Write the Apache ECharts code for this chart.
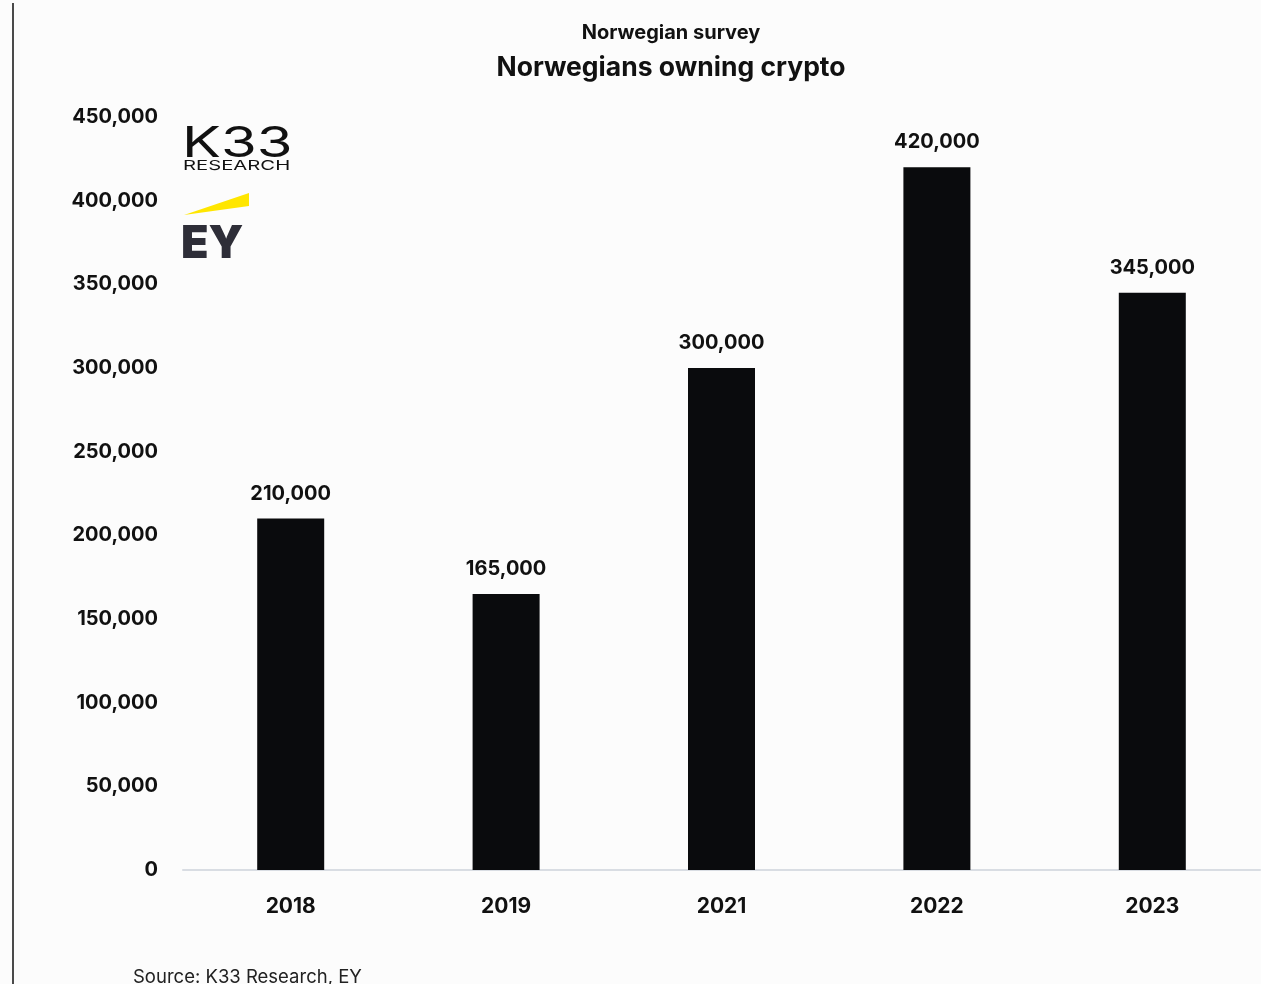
<!DOCTYPE html>
<html>
<head>
<meta charset="utf-8">
<script src="https://cdn.jsdelivr.net/npm/echarts@6/dist/echarts.min.js"></script>
<style>
  html, body { margin: 0; padding: 0; background: #fcfcfc; }
  #chart { width: 1261px; height: 984px; }
</style>
</head>
<body>
<div id="chart"></div>
<script>
// Survey years and estimated number of Norwegians owning crypto
const years = ['2018', '2019', '2021', '2022', '2023'];
const owners = [210000, 165000, 300000, 420000, 345000];
const yTicks = { min: 0, max: 450000, interval: 50000 };

const FONT = 'Inter, "Noto Sans", sans-serif';
const fmt = v => v.toLocaleString('en-US');

const chart = echarts.init(document.getElementById('chart'), null, { renderer: 'canvas' });

chart.setOption({
  backgroundColor: '#fcfcfc',
  animation: false,
  textStyle: { fontFamily: FONT },
  title: [
    {
      text: 'Norwegian survey',
      left: 666, top: 18, textAlign: 'center',
      textStyle: { fontFamily: FONT, fontSize: 20, fontWeight: 700, color: '#111' }
    },
    {
      text: 'Norwegians owning crypto',
      left: 666, top: 50, textAlign: 'center',
      textStyle: { fontFamily: FONT, fontSize: 26.5, fontWeight: 700, color: '#111' }
    },
    {
      text: 'Source: K33 Research, EY',
      left: 128, top: 963,
      textStyle: { fontFamily: FONT, fontSize: 18.5, fontWeight: 400, color: '#222' }
    }
  ],
  grid: { left: 183, right: 1, top: 117, bottom: 114, containLabel: false },
  xAxis: {
    type: 'category',
    data: years,
    axisLine: { lineStyle: { color: '#d9dde3', width: 2 } },
    axisTick: { show: false },
    axisLabel: { margin: 26, fontFamily: FONT, fontSize: 21, fontWeight: 700, color: '#111' }
  },
  yAxis: {
    type: 'value',
    min: yTicks.min, max: yTicks.max, interval: yTicks.interval,
    splitLine: { show: false },
    axisLine: { show: false },
    axisTick: { show: false },
    axisLabel: {
      margin: 25, fontFamily: FONT, fontSize: 20, fontWeight: 700, color: '#111',
      formatter: v => fmt(v)
    }
  },
  series: [{
    type: 'bar',
    data: owners,
    barWidth: 67,
    itemStyle: { color: '#0a0b0d' },
    label: {
      show: true, position: 'top', distance: 15,
      fontFamily: FONT, fontSize: 20, fontWeight: 700, color: '#111',
      formatter: p => fmt(p.value)
    }
  }],
  graphic: [
    // left frame rule
    { type: 'rect', shape: { x: 12, y: 3, width: 2, height: 981 }, style: { fill: '#4a4a4a' } },
    // K33 Research mark (horizontally stretched wordmark)
    {
      type: 'text', x: 182, y: 123, scaleX: 1.38, originX: 0, originY: 0,
      style: { text: 'K33', font: '400 42px ' + FONT, fill: '#111', verticalAlign: 'top' }
    },
    {
      type: 'text', x: 183, y: 159, scaleX: 1.5, originX: 0, originY: 0,
      style: { text: 'RESEARCH', font: '400 13.5px ' + FONT, fill: '#111', verticalAlign: 'top' }
    },
    // EY beam and wordmark
    {
      type: 'polygon',
      shape: { points: [[184, 215], [249, 193], [249, 206]] },
      style: { fill: '#ffe600' }
    },
    {
      type: 'text', left: 181, top: 222,
      style: { text: 'EY', font: '900 45px ' + FONT, fill: '#2e2e38' }
    }
  ]
});
</script>
</body>
</html>
